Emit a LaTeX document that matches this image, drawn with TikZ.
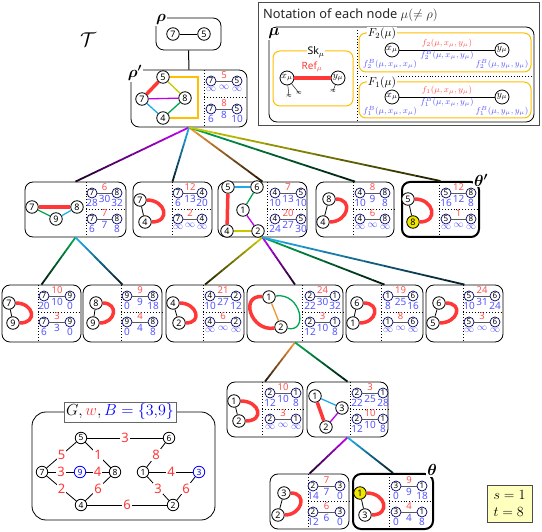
\RequirePackage{fix-cm}
\documentclass[tikz,border=0pt]{standalone}
\usepackage{fontspec}
\setsansfont{Noto Sans}
\usepackage{bm}
\usetikzlibrary{calc,fit}

\definecolor{cpur}{RGB}{190,0,240}
\definecolor{ccya}{RGB}{30,170,230}
\definecolor{cgrn}{RGB}{0,165,80}
\definecolor{colv}{RGB}{200,200,0}
\definecolor{corg}{RGB}{240,150,50}
\definecolor{cgold}{RGB}{255,190,0}
\definecolor{cred}{RGB}{255,55,55}
\definecolor{tred}{RGB}{255,80,80}
\definecolor{tblu}{RGB}{85,85,255}
\definecolor{cyel}{RGB}{240,230,0}
\definecolor{stbg}{RGB}{255,255,190}

\tikzset{
  vx/.style={circle,draw,fill=white,line width=0.8pt,inner sep=0pt,minimum size=12.5pt,font=\sffamily\fontsize{9}{9}\selectfont},
  yv/.style={vx,fill=cyel},
  tv/.style={circle,draw=black!60!blue,fill=white,line width=0.7pt,inner sep=0pt,minimum size=10pt,font=\sffamily\fontsize{8}{8}\selectfont},
  tl/.style={black!65,line width=0.8pt},
  rw/.style={text=tred,inner sep=0pt,font=\sffamily\fontsize{9.5}{9.5}\selectfont},
  bw/.style={text=tblu,inner sep=0pt,font=\sffamily\fontsize{10}{10}\selectfont},
  refl/.style={cred,line width=3.5pt},
  eg/.style={line width=1.3pt},
  tbox/.style={draw,line width=0.8pt,rounded corners=8pt,inner sep=0pt},
  dv/.style={dotted,line width=0.9pt},
  gl/.style={line width=1.8pt},
  nlab/.style={fill=white,inner sep=1pt,font=\fontsize{16}{16}\selectfont},
  gbox/.style={draw=cgold,line width=1pt,rounded corners=7pt,inner sep=0pt},
  lv/.style={circle,draw,fill=white,line width=0.8pt,inner sep=0pt,minimum size=14pt,font=\fontsize{9.5}{9.5}\selectfont},
  lt/.style={inner sep=0pt,font=\fontsize{8.5}{8.5}\selectfont},
  gv/.style={circle,draw,fill=white,line width=0.8pt,inner sep=0pt,minimum size=11.5pt,font=\sffamily\fontsize{8.5}{8.5}\selectfont},
  bv/.style={gv,draw=blue,text=blue},
  ge/.style={line width=0.8pt},
  gw/.style={fill=white,text=cred,inner sep=1pt,font=\sffamily\fontsize{13}{13}\selectfont},
}

\newcommand{\tbox}[7][]{%
  \node[tbox,#1,fit={(#3,#4) (#5,#6)}] (#2) {};
  \draw[dv] (#7,#4) -- (#7,#6);
  \draw[dv] (#7,{#4+27}) -- (#5,{#4+27});}
\newcommand{\trow}[9]{%
  \node[tv] (#1a) at (#2,#4) {#5};
  \node[tv] (#1b) at (#3,#4) {#6};
  \draw[tl] (#1a) -- (#1b);
  \node[rw,yshift=5.5pt] at ($(#1a)!.5!(#1b)$) {#7};
  \node[bw,below=1pt] at (#1a.south) {#8};
  \node[bw,yshift=-6pt] at ($(#1a)!.5!(#1b)$) {#9};
  \def\trowname{#1b}\trowend}
\newcommand{\trowend}[1]{\node[bw,below=1pt] at (\trowname.south) {#1};}
\newcommand{\gline}[3]{%
  \foreach \gi in {0,...,9}{%
    \pgfmathsetmacro\ga{\gi/10}%
    \pgfmathsetmacro\gb{(\gi+1)/10}%
    \pgfmathtruncatemacro\gc{100-9*\gi}%
    \draw[gl,draw=#1!\gc!black] ($(#2)!\ga!(#3)$) -- ($(#2)!\gb!(#3)$);}}

\begin{document}
\begin{tikzpicture}[x=1pt,y=-1pt]
\useasboundingbox (0,0) rectangle (542,532);

\node[font=\fontsize{20}{20}\selectfont] (tT) at (88,40) {$\mathcal{T}$};

% root
\node[tbox,fit={(156,18) (221,50)}] (rho) {};
\node[nlab] at (161,20) {$\bm{\rho}$};
\node[vx] (r7) at (173,34) {7};
\node[vx] (r5) at (204,34) {5};
\draw[ge] (r7) -- (r5);

% rho'
\tbox{rhop}{131}{70}{247}{127}{204}
\node[nlab] at (135,73) {$\bm{\rho'}$};
\node[vx] (p5) at (163,77) {5};
\node[vx] (p7) at (142,99) {7};
\node[vx] (p8) at (185,98) {8};
\node[vx] (p4) at (163,118) {4};
\coordinate (pc1) at (198,77);
\coordinate (pc2) at (198,118);
\draw[refl] (p5) -- (p7);
\draw[eg,colv] (p5) -- (p8);
\draw[eg,cpur] (p7) -- (p8);
\draw[eg,ccya] (p7) -- (p4);
\draw[eg,cgrn] (p4) -- (p8);
\draw[eg,cgold] (p5) -- (pc1) -- (pc2) -- (p4);
\trow{pt}{211}{237}{81}{7}{5}{5}{$\infty$}{$\infty$}{$\infty$}
\trow{pb}{211}{237}{109}{7}{5}{8}{6}{8}{10}
\draw[line width=1pt] (rho.south) -- (rhop.north);

% row 2
\tbox{nA}{25}{182}{126}{237}{86}
\node[vx] (a7) at (32,207) {7};
\node[vx] (a8) at (77,207) {8};
\node[vx] (a9) at (56,219) {9};
\draw[refl] (a7) -- (a8);
\draw[eg,cgrn] (a7) -- (a9);
\draw[eg,ccya] (a9) -- (a8);
\trow{at}{92}{117}{193}{7}{8}{6}{28}{30}{32}
\trow{ab}{92}{117}{219}{7}{8}{7}{6}{7}{8}

\tbox{nB}{133}{182}{212}{237}{172}
\node[vx] (b7) at (140,200) {7};
\node[vx] (b4) at (145,222) {4};
\draw[ge] (b7) -- (b4);
\draw[refl] (b7) .. controls +(26,0) and +(26,0) .. (b4);
\trow{bt}{178}{202}{193}{7}{4}{12}{6}{13}{20}
\trow{bb}{178}{202}{219}{7}{4}{2}{$\infty$}{$\infty$}{$\infty$}

\tbox{nC}{218}{182}{307}{237}{267}
\node[vx] (c5) at (228,187) {5};
\node[vx] (c6) at (257,187) {6};
\node[vx] (c1) at (243,210) {1};
\node[vx] (c4) at (227,231) {4};
\node[vx] (c2) at (258,231) {2};
\draw[eg,ccya] (c5) -- (c6);
\draw[eg,cgrn] (c6) -- (c1);
\draw[eg,cpur] (c1) -- (c2);
\draw[eg,colv] (c4) -- (c2);
\draw[refl] (c5) -- (c4);
\trow{ct}{275}{301}{193}{4}{5}{7}{10}{13}{10}
\trow{cb}{275}{301}{219}{4}{5}{20}{24}{27}{30}

\tbox{nD}{316}{182}{394}{237}{353}
\node[vx] (d8) at (329,199) {8};
\node[vx] (d4) at (323,222) {4};
\draw[ge] (d8) -- (d4);
\draw[refl] (d8) .. controls +(25,0) and +(25,0) .. (d4);
\trow{dt}{360}{385}{193}{4}{8}{8}{10}{9}{8}
\trow{db}{360}{385}{219}{4}{8}{6}{$\infty$}{$\infty$}{$\infty$}

\tbox[line width=2pt]{nE}{402}{182}{479}{237}{439}
\node[nlab] at (481,180) {$\bm{\theta'}$};
\node[vx] (e5) at (408,199) {5};
\node[yv] (e8) at (413,222) {8};
\draw[ge] (e5) -- (e8);
\draw[refl] (e5) .. controls +(26,0) and +(26,0) .. (e8);
\trow{et}{446}{471}{193}{5}{8}{12}{16}{12}{8}
\trow{eb}{446}{471}{219}{5}{8}{1}{$\infty$}{$\infty$}{$\infty$}

\gline{cpur}{rhop.south}{nA.north}
\gline{ccya}{rhop.south}{nB.north}
\gline{corg}{rhop.south}{nC.north}
\gline{cgrn}{rhop.south}{nD.north}
\gline{colv}{rhop.south}{nE.north}

% row 3
\tbox{nF}{2}{285}{81}{342}{38}
\node[vx] (f7) at (9,303) {7};
\node[vx] (f9) at (13,323) {9};
\draw[ge] (f7) -- (f9);
\draw[refl] (f7) .. controls +(25,0) and +(25,0) .. (f9);
\trow{ft}{44}{70}{296}{7}{9}{10}{20}{10}{0}
\trow{fb}{44}{70}{322}{7}{9}{3}{6}{3}{0}

\tbox{nG}{83}{285}{162}{342}{121}
\node[vx] (g8) at (96,303) {8};
\node[vx] (g9) at (93,323) {9};
\draw[ge] (g8) -- (g9);
\draw[refl] (g8) .. controls +(23,0) and +(23,0) .. (g9);
\trow{gt}{127}{153}{296}{9}{8}{9}{0}{9}{18}
\trow{gb}{127}{153}{322}{9}{8}{4}{0}{4}{8}

\tbox{nH}{166}{285}{244}{342}{203}
\node[vx] (h4) at (173,303) {4};
\node[vx] (h2) at (179,323) {2};
\draw[ge] (h4) -- (h2);
\draw[refl] (h4) .. controls +(24,0) and +(24,0) .. (h2);
\trow{ht}{210}{236}{296}{4}{2}{21}{10}{27}{12}
\trow{hb}{210}{236}{322}{4}{2}{6}{$\infty$}{$\infty$}{$\infty$}

\tbox{nI}{247}{285}{343}{342}{302}
\node[vx] (i1) at (269,297) {1};
\node[vx] (i2) at (281,327) {2};
\draw[eg,corg] (i1) -- (i2);
\draw[refl] (i1) .. controls +(-30,-2) and +(-30,5) .. (i2);
\draw[eg,cgrn] (i1) .. controls +(32,-5) and +(28,6) .. (i2);
\trow{it}{310}{335}{296}{2}{1}{24}{22}{30}{32}
\trow{ib}{310}{335}{322}{2}{1}{3}{12}{10}{8}

\tbox{nJ}{346}{285}{423}{342}{381}
\node[vx] (j6) at (357,303) {6};
\node[vx] (j1) at (353,323) {1};
\draw[ge] (j6) -- (j1);
\draw[refl] (j6) .. controls +(24,0) and +(24,0) .. (j1);
\trow{jt}{388}{413}{296}{1}{6}{19}{8}{25}{16}
\trow{jb}{388}{413}{322}{1}{6}{8}{$\infty$}{$\infty$}{$\infty$}

\tbox{nK}{426}{285}{503}{342}{463}
\node[vx] (k6) at (439,303) {6};
\node[vx] (k5) at (433,323) {5};
\draw[ge] (k6) -- (k5);
\draw[refl] (k6) .. controls +(25,0) and +(25,0) .. (k5);
\trow{kt}{469}{495}{296}{5}{6}{24}{10}{31}{24}
\trow{kb}{469}{495}{322}{5}{6}{3}{$\infty$}{$\infty$}{$\infty$}

\gline{cgrn}{nA.south}{nF.north}
\gline{ccya}{nA.south}{nG.north}
\gline{colv}{nC.south}{nH.north}
\gline{cpur}{nC.south}{nI.north}
\gline{cgrn}{nC.south}{nJ.north}
\gline{ccya}{nC.south}{nK.north}

% row 4
\tbox{nL}{227}{382}{303}{437}{262}
\node[vx] (l1) at (234,401) {1};
\node[vx] (l2) at (239,421) {2};
\draw[ge] (l1) -- (l2);
\draw[refl] (l1) .. controls +(26,0) and +(26,0) .. (l2);
\trow{lt}{270}{296}{393}{2}{1}{10}{12}{10}{8}
\trow{lb}{270}{296}{419}{2}{1}{3}{$\infty$}{$\infty$}{$\infty$}

\tbox{nM}{307}{382}{388}{437}{350}
\node[vx] (m1) at (315,396) {1};
\node[vx] (m3) at (342,408) {3};
\node[vx] (m2) at (326,427) {2};
\draw[eg,ccya] (m1) -- (m3);
\draw[eg,cpur] (m3) -- (m2);
\draw[refl] (m1) -- (m2);
\trow{mt}{357}{383}{393}{2}{1}{3}{22}{25}{28}
\trow{mb}{357}{383}{419}{2}{1}{10}{12}{10}{8}

\gline{corg}{nI.south}{nL.north}
\gline{cgrn}{nI.south}{nM.north}

% row 5
\tbox{nN}{270}{474}{349}{529}{308}
\node[vx] (n3) at (284,493) {3};
\node[vx] (n2) at (278,515) {2};
\draw[ge] (n3) -- (n2);
\draw[refl] (n3) .. controls +(24,0) and +(24,0) .. (n2);
\trow{nt}{313}{340}{486}{2}{3}{7}{14}{7}{0}
\trow{nb}{313}{340}{512}{2}{3}{6}{12}{6}{0}

\tbox[line width=2pt]{nO}{353}{474}{433}{529}{389}
\node[nlab] at (432,470) {$\bm{\theta}$};
\node[yv] (o1) at (360,493) {1};
\node[vx] (o3) at (365,515) {3};
\draw[ge] (o1) -- (o3);
\draw[refl] (o1) .. controls +(26,0) and +(26,0) .. (o3);
\trow{ot}{396}{422}{486}{3}{1}{9}{0}{9}{18}
\trow{ob}{396}{422}{512}{3}{1}{4}{0}{4}{8}

\gline{cpur}{nM.south}{nN.north}
\gline{ccya}{nM.south}{nO.north}

% s, t
\node[draw=black!70,fill=stbg,minimum width=45pt,minimum height=37pt,inner sep=0pt,align=left,font=\fontsize{14}{17}\selectfont] (st) at (509.5,503.5) {$s=1$\\$t=8$};

% legend
\node[draw=black!70,line width=0.8pt,fit={(258,2) (539,125)},inner sep=0pt] (leg) {};
\node[anchor=west,text=black!85,inner sep=0pt,font=\sffamily\fontsize{12.8}{12.8}\selectfont] (ttl) at (263,15) {Notation of each node $\mu(\neq\rho)$};
\node[tbox,fit={(269,27) (534,122)}] (mu) {};
\node[nlab] at (274,34) {$\bm{\mu}$};
\draw[dv] (357,30) -- (357,120);
\draw[dv] (357,76) -- (533,76);

\node[gbox,fit={(273,51) (353,106)}] (sk) {};
\node[fill=white,inner sep=1pt,font=\sffamily\fontsize{10.5}{10.5}\selectfont] at (316,52) {Sk$_\mu$};
\node[lv] (sx) at (287,78) {$x_\mu$};
\node[lv] (sy) at (338,78) {$y_\mu$};
\draw[refl] (sx) -- (sy);
\node[text=cred,inner sep=0pt,font=\sffamily\fontsize{10}{10}\selectfont] at (312,67) {Ref$_\mu$};
\coordinate (sg1) at (289,96);
\coordinate (sg2) at (299,93);
\coordinate (sg3) at (333,91);
\draw (sx) -- (sg1) node[inner sep=0pt,font=\fontsize{6}{6}\selectfont] {$\approx$};
\draw (sx) -- (sg2) node[inner sep=0pt,font=\fontsize{6}{6}\selectfont] {$\approx$};
\draw (sy) -- (sg3) node[inner sep=0pt,font=\fontsize{6}{6}\selectfont] {$\approx$};

\node[gbox,fit={(359,33) (531,72)}] (ftwo) {};
\node[fill=white,inner sep=1pt,font=\fontsize{11.5}{11.5}\selectfont] at (382,34) {$F_2(\mu)$};
\node[lv] (f2x) at (392,50) {$x_\mu$};
\node[lv] (f2y) at (502,50) {$y_\mu$};
\draw[ge] (f2x) -- (f2y);
\node[lt,text=tred] at (447,43) {$f_2(\mu,x_\mu,y_\mu)$};
\node[lt,text=tblu] at (447,55) {$f_2^B(\mu,x_\mu,y_\mu)$};
\node[lt,text=tblu] at (390,64) {$f_2^B(\mu,x_\mu,x_\mu)$};
\node[lt,text=tblu] at (502,64) {$f_2^B(\mu,y_\mu,y_\mu)$};

\node[gbox,fit={(359,82) (531,118)}] (fone) {};
\node[fill=white,inner sep=1pt,font=\fontsize{11.5}{11.5}\selectfont] at (382,83) {$F_1(\mu)$};
\node[lv] (f1x) at (392,97) {$x_\mu$};
\node[lv] (f1y) at (502,97) {$y_\mu$};
\draw[ge] (f1x) -- (f1y);
\node[lt,text=tred] at (447,90) {$f_1(\mu,x_\mu,y_\mu)$};
\node[lt,text=tblu] at (447,102) {$f_1^B(\mu,x_\mu,y_\mu)$};
\node[lt,text=tblu] at (390,111) {$f_1^B(\mu,x_\mu,x_\mu)$};
\node[lt,text=tblu] at (502,111) {$f_1^B(\mu,y_\mu,y_\mu)$};

% graph G
\node[tbox,rounded corners=14pt,fit={(32,412) (215,520)}] (gbx) {};
\node[draw=black!60,fill=white,inner sep=2pt,font=\fontsize{16}{16}\selectfont] (glab) at (120,412) {$G,{\color{cred}w},{\color{blue}B=\{3{,}9\}}$};
\node[gv] (g5) at (81,438) {5};
\node[gv] (g6) at (169,438) {6};
\node[gv] (g7) at (42,472) {7};
\node[bv] (gg9) at (80,472) {9};
\node[gv] (gg8) at (115,472) {8};
\node[gv] (g1) at (143,472) {1};
\node[bv] (g3) at (199,472) {3};
\node[gv] (g4) at (81,505) {4};
\node[gv] (g2) at (173,505) {2};
\draw[ge] (g5) -- node[gw] {3} (g6);
\draw[ge] (g5) -- node[gw] {5} (g7);
\draw[ge] (g5) -- node[gw] {1} (gg8);
\draw[ge] (g7) -- node[gw] {3} (gg9);
\draw[ge] (gg9) -- node[gw] {4} (gg8);
\draw[ge] (g7) -- node[gw] {2} (g4);
\draw[ge] (g4) -- node[gw] {6} (gg8);
\draw[ge] (g4) -- node[gw] {6} (g2);
\draw[ge] (g6) -- node[gw] {8} (g1);
\draw[ge] (g1) -- node[gw] {4} (g3);
\draw[ge] (g1) -- node[gw] {3} (g2);
\draw[ge] (g3) -- node[gw] {6} (g2);
\end{tikzpicture}
\end{document}
